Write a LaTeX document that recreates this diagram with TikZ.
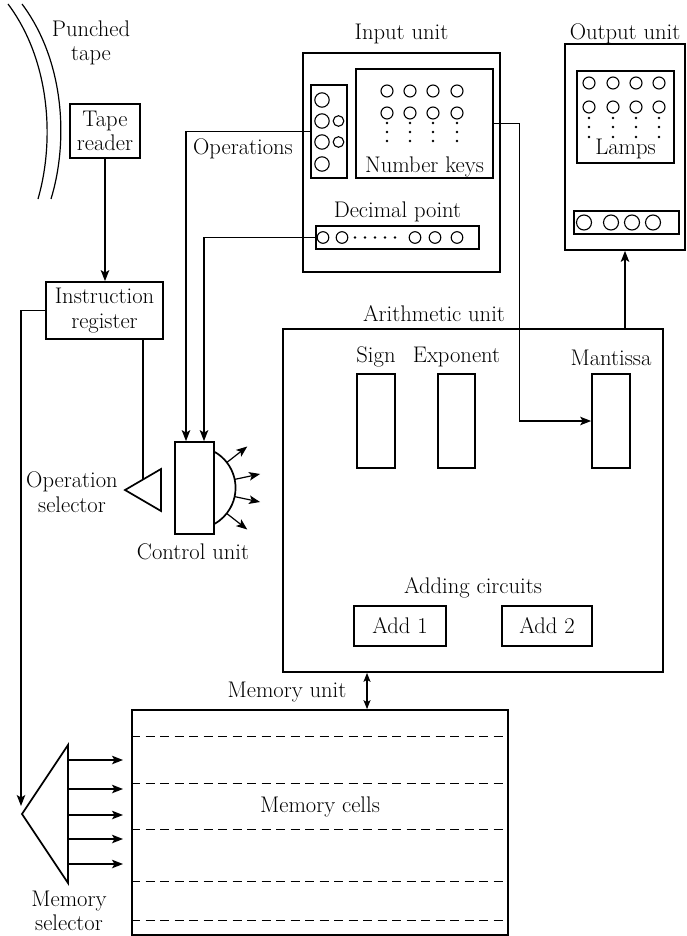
\documentclass[tikz,border=0pt]{standalone}
\usetikzlibrary{arrows.meta}
\begin{document}
\begin{tikzpicture}[x=1pt,y=-1pt,font=\fontsize{22.6}{24.5}\selectfont,
 unit/.style={draw,line width=1.7pt,inner sep=0pt,align=center},
 lbl/.style={inner sep=0pt,align=center},
 wire/.style={line width=1.2pt},
 arr/.style={wire,-{Stealth[length=11pt,width=8.5pt,inset=2.5pt]}},
 dbl/.style={wire,{Stealth[length=9pt,width=7pt,inset=2pt]}-{Stealth[length=9pt,width=7pt,inset=2pt]}},
 knob/.style={line width=1.1pt},
 cell/.style={line width=1.1pt,dash pattern=on 9pt off 5.5pt}]
\useasboundingbox (0,0) rectangle (687,936);
\draw[wire] (8,4) .. controls (50,60) and (55,140) .. (38,199);
\draw[wire] (22,4) .. controls (64,60) and (69,140) .. (51,199);
\node[lbl] (tape) at (91,43) {Punched\\tape};
\node[unit,minimum width=70pt,minimum height=54pt] (reader) at (105,131) {Tape\\reader};
\node[unit,minimum width=117pt,minimum height=57pt] (ireg) at (104.5,310.5) {Instruction\\register};
\node[unit,minimum width=197pt,minimum height=219pt] (input) at (401.5,162.5) {};
\node[lbl,anchor=base] (inputlbl) at (401.5,40) {Input unit};
\node[unit,minimum width=36pt,minimum height=93pt] (ops) at (329,131.5) {};
\node[lbl,anchor=base] (opslbl) at (243,155) {Operations};
\node[unit,minimum width=137pt,minimum height=109pt] (keys) at (424.5,123.5) {};
\node[lbl,anchor=base] (keyslbl) at (424.5,172) {Number keys};
\node[lbl,anchor=base] (pointlbl) at (397.5,217) {Decimal point};
\node[unit,minimum width=163pt,minimum height=23pt] (point) at (397.5,237.5) {};
\node[unit,minimum width=120pt,minimum height=206pt] (output) at (625,147) {};
\node[lbl,anchor=base] (outputlbl) at (625,40) {Output unit};
\node[unit,minimum width=97pt,minimum height=92pt] (lamps) at (625.5,117) {};
\node[lbl,anchor=base] (lampslbl) at (625.5,155) {Lamps};
\node[unit,minimum width=105pt,minimum height=23pt] (display) at (626.5,222.5) {};
\node[unit,minimum width=380pt,minimum height=343pt] (arith) at (473,500.5) {};
\node[lbl,anchor=base] (arithlbl) at (434,321) {Arithmetic unit};
\node[unit,minimum width=38pt,minimum height=94pt] (sign) at (376,421) {};
\node[unit,minimum width=37pt,minimum height=94pt] (expo) at (456.5,421) {};
\node[unit,minimum width=38pt,minimum height=94pt] (mant) at (611,421) {};
\node[lbl,anchor=base] (signlbl) at (376,362) {Sign};
\node[lbl,anchor=base] (expolbl) at (456.5,362) {Exponent};
\node[lbl,anchor=base] (mantlbl) at (611,365) {Mantissa};
\node[lbl,anchor=base] (addlbl) at (473,593) {Adding circuits};
\node[unit,minimum width=92pt,minimum height=40pt] (add1) at (400,626) {Add 1};
\node[unit,minimum width=90pt,minimum height=40pt] (add2) at (547,626) {Add 2};
\node[unit,minimum width=39pt,minimum height=92pt] (ctrl) at (194.5,488) {};
\node[lbl,anchor=base] (ctrllbl) at (193,559) {Control unit};
\draw[line width=1.7pt] (ctrl.east) ++(0,-36) arc[start angle=-60,end angle=60,radius=41.4];
\foreach \a in {-38,-12,12,38} \draw[arr] (ctrl.east) ++(-20.7,0) ++(\a:41.4) -- ++(\a:26);
\draw[line width=1.7pt] (125,490) -- (161,469) -- (161,511) -- cycle;
\node[lbl] (opsellbl) at (72,492) {Operation\\selector};
\coordinate (opin) at (143,479.5);
\node[unit,minimum width=376pt,minimum height=225pt] (mem) at (320,822.5) {};
\foreach \d in {27,74,120,172,211} \draw[cell] ([yshift=-\d pt]mem.north west) -- ([yshift=-\d pt]mem.north east);
\node[lbl,anchor=base] (memlbl) at (320,812) {Memory cells};
\node[lbl,anchor=base] (unitlbl) at (287,697) {Memory unit};
\coordinate (mu) at (367,690);
\draw[line width=1.7pt] (68,745) -- (22,814) -- (68,883) -- cycle;
\node[lbl] (msellbl) at (69,911) {Memory\\selector};
\coordinate (msin) at (21,806);
\foreach \y in {760,789,815,839,864} \draw[arr] (68,\y) -- ++(55,0);
\foreach \y in {100,121,142,164} \draw[knob] (322,\y) circle[radius=7.2];
\foreach \y in {121,142} \draw[knob] (338.5,\y) circle[radius=5.3];
\foreach \x in {387,410,433,457}{
 \foreach \y in {91,113} \draw[knob] (\x,\y) circle[radius=6];
 \foreach \y in {123,132,141} \fill (\x,\y) circle[radius=1.4];}
\foreach \x in {589,613,636,659}{
 \foreach \y in {83,107} \draw[knob] (\x,\y) circle[radius=6];
 \foreach \y in {118,127,137} \fill (\x,\y) circle[radius=1.4];}
\foreach \x in {323,342,415,435,457} \draw[knob] (\x,237.5) circle[radius=5.8];
\foreach \x in {355,365,375,385,395} \fill (\x,237.5) circle[radius=1.3];
\foreach \x in {584,611,632,653} \draw[knob] (\x,222.5) circle[radius=7.5];
\draw[arr] (reader.south) -- (reader.south |- ireg.north);
\draw[arr] (ireg.west) -| (msin);
\draw[wire] (ireg.south -| opin) -- (opin);
\draw[arr] (ops.west) -| ([xshift=-8.5pt]ctrl.north);
\draw[arr] (point.west) -| ([xshift=9.5pt]ctrl.north);
\draw[arr] (keys.east) -- ++(26,0) |- (mant.west);
\draw[arr] (arith.north -| output.south) -- (output.south);
\draw[dbl] (arith.south -| mu) -- (mem.north -| mu);
\end{tikzpicture}
\end{document}
